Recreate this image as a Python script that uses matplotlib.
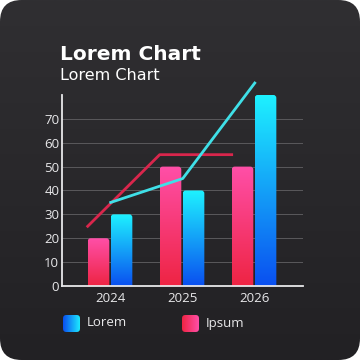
import numpy as np
import matplotlib
matplotlib.use("Agg")
import matplotlib.pyplot as plt
from matplotlib.colors import LinearSegmentedColormap
from matplotlib.patches import FancyBboxPatch

years = ["2024", "2025", "2026"]
lorem = [30, 40, 80]
ipsum = [20, 50, 50]
lorem_line = [35, 45, 85]
ipsum_line = [25, 55, 55]

plt.rcParams['font.family'] = ['Open Sans', 'DejaVu Sans']

blue_cm = LinearSegmentedColormap.from_list("b", ["#0a4ff0", "#1ef2ff"])
pink_cm = LinearSegmentedColormap.from_list("p", ["#ee2443", "#ff4fa8"])

fig = plt.figure(figsize=(3.6, 3.6), dpi=100)
fig.patch.set_facecolor("white")

# card background
bg = fig.add_axes([0, 0, 1, 1])
bg.set_xlim(0, 1)
bg.set_ylim(0, 1)
bg.axis("off")
card = FancyBboxPatch((0, 0), 1, 1, boxstyle="round,pad=0,rounding_size=0.06",
                      transform=bg.transAxes, facecolor="none", edgecolor="none")
bg.add_patch(card)
grad = np.linspace(0, 1, 256).reshape(-1, 1)
im = bg.imshow(grad, extent=(0, 1, 0, 1), aspect="auto", origin="lower",
               cmap=LinearSegmentedColormap.from_list("bg", ["#222124", "#302f32"]))
im.set_clip_path(card)

ax = fig.add_axes([0.1722, 0.2056, 0.6694, 0.5306])
ax.patch.set_alpha(0)
x = np.arange(len(years))
w = 0.30
gap = 0.01
xp = x - w / 2 - gap
xl = x + w / 2 + gap

ax.set_xlim(-0.667, 2.68)
ax.set_ylim(0, 80)

ppx = 0.6694 * 360 / (2.68 + 0.667)
ppy = 0.5306 * 360 / 80
r = 3.0 / ppx

def grad_bars(xs, vals, cm):
    bars = ax.bar(xs, vals, width=w, color="none")
    for b in bars:
        x0, h = b.get_x(), b.get_height()
        patch = FancyBboxPatch((x0, -5), w, h + 5,
                               boxstyle="round,pad=0,rounding_size=%f" % r,
                               mutation_aspect=ppx / ppy,
                               facecolor="none", edgecolor="none")
        ax.add_patch(patch)
        g = ax.imshow(grad, extent=(x0, x0 + w, 0, h), aspect="auto",
                      origin="lower", cmap=cm, zorder=2)
        g.set_clip_path(patch)

grad_bars(xp, ipsum, pink_cm)
grad_bars(xl, lorem, blue_cm)

ax.plot(xp - w / 2, ipsum_line, color="#d9264c", lw=2, zorder=3, clip_on=False)
ax.plot(xl - w / 2, lorem_line, color="#3fe0e8", lw=2, zorder=3, clip_on=False)

ax.set_xlim(-0.667, 2.68)
ax.set_ylim(0, 80)
ax.set_xticks(x)
ax.set_xticklabels(years)
ax.set_yticks(range(0, 80, 10))
ax.grid(axis="y", color="#5a595c", lw=0.7)
ax.set_axisbelow(True)
ax.tick_params(length=0, colors="#e8e8ea", labelsize=9.5)
ax.tick_params(axis="y", pad=2)
ax.tick_params(axis="x", pad=4)
for s in ["top", "right"]:
    ax.spines[s].set_visible(False)
for s in ["left", "bottom"]:
    ax.spines[s].set_color("#e8e8ea")
    ax.spines[s].set_linewidth(1.3)

fig.text(60 / 360, 1 - 60 / 360, "Lorem Chart", color="white", fontsize=14.5,
         fontweight="bold", va="baseline", family="DejaVu Sans")
fig.text(60 / 360, 1 - 79.5 / 360, "Lorem Chart", color="white", fontsize=11.5,
         va="baseline", family="DejaVu Sans")

# legend
hgrad = np.linspace(0, 1, 64).reshape(1, -1)
for lx, cm, label in [(63, blue_cm, "Lorem"), (182, pink_cm, "Ipsum")]:
    la = fig.add_axes([lx / 360, 1 - 332 / 360, 17 / 360, 17 / 360])
    la.axis("off")
    la.set_xlim(0, 1)
    la.set_ylim(0, 1)
    sq = FancyBboxPatch((0, 0), 1, 1, boxstyle="round,pad=0,rounding_size=0.2",
                        transform=la.transAxes, facecolor="none", edgecolor="none")
    la.add_patch(sq)
    li = la.imshow(hgrad, extent=(0, 1, 0, 1), aspect="auto", cmap=cm)
    li.set_clip_path(sq)
    fig.text((lx + 24) / 360, 1 - 323 / 360, label, color="#e8e8ea",
             fontsize=9.5, va="center")

fig.savefig("out.png", dpi=100, facecolor="white")
